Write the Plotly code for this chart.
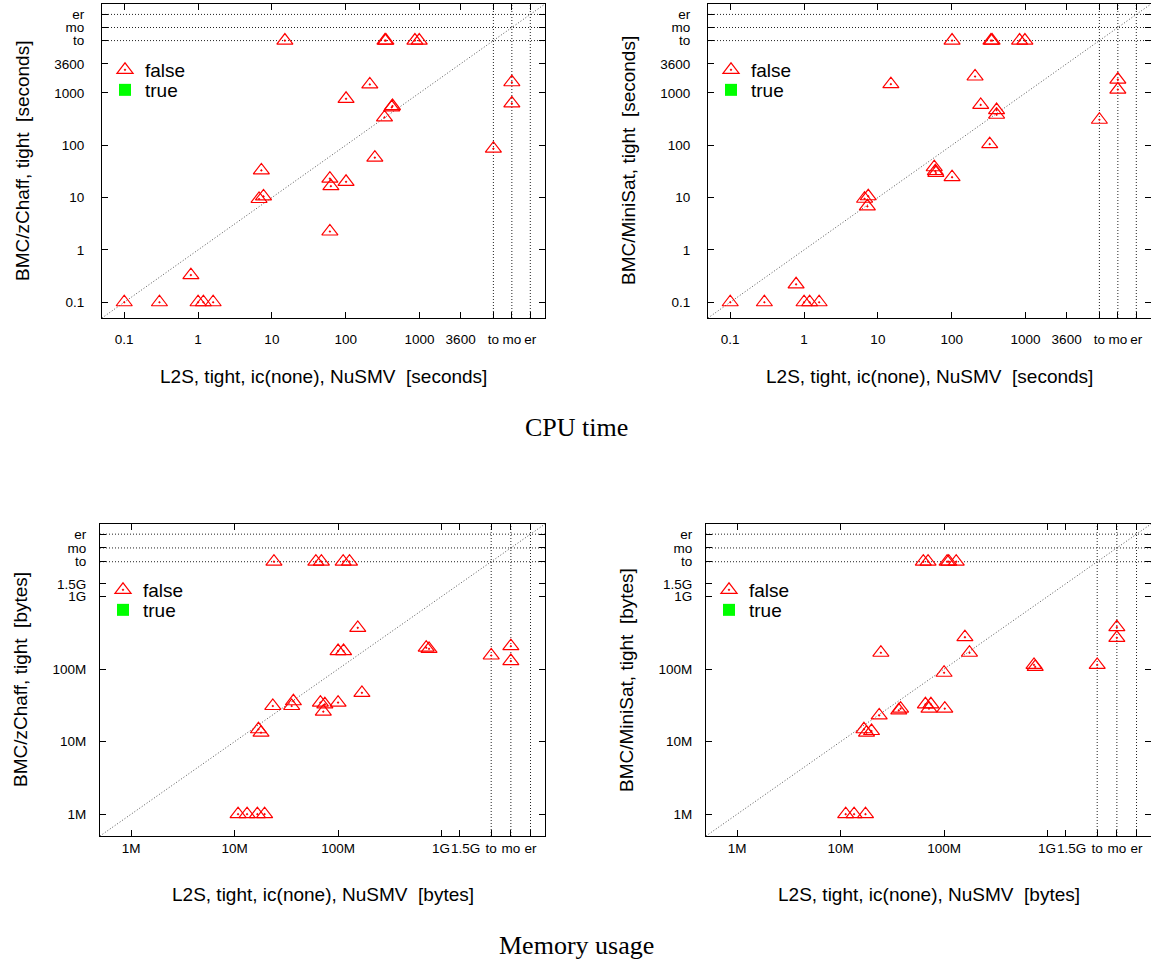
import math
import plotly.graph_objects as go

# ---------------- special "failure" positions ----------------
T_TO, T_MO, T_ER = 1e4, 10 ** 4.25, 10 ** 4.5          # CPU time axes
M_TO, M_MO, M_ER = 10 ** 9.48, 10 ** 9.67, 10 ** 9.86  # memory axes
M = 1e6

# ---------------- axis ticks ----------------
time_tickvals = [0.1, 1, 10, 100, 1000, 3600, T_TO, T_MO, T_ER]
time_ticktext = ["0.1", "1", "10", "100", "1000", "3600", "to", "mo", "er"]
time_range = [0.05, 50000]

mem_tickvals = [1e6, 1e7, 1e8, 1e9, 1.5e9, M_TO, M_MO, M_ER]
mem_ticktext = ["1M", "10M", "100M", "1G", "1.5G", "to", "mo", "er"]
mem_range = [5e5, 1e10]
# labels drawn beside (not centred on) their ticks on the memory x axes
mem_x_side_labels = {"1G": 1e9, "1.5G": 1.5e9}

# ---------------- data ----------------
# CPU time: L2S (x) vs BMC/zChaff (y)
cpu_zchaff_x = [0.1, 0.30, 0.8, 1.0, 1.18, 1.6,
                7.2, 6.7, 7.7,
                61, 63, 101, 61,
                101, 212, 248, 335, 420, 430,
                15, 340, 350, 865, 990,
                T_TO, T_MO, T_MO]
cpu_zchaff_y = [0.1, 0.1, 0.33, 0.1, 0.1, 0.1,
                33, 9.4, 10.5,
                23, 16.5, 20, 2.25,
                770, 1450, 58, 340, 530, 560,
                T_TO, T_TO, T_TO, T_TO, T_TO,
                86, 1600, 630]

# CPU time: L2S (x) vs BMC/MiniSat (y)
cpu_minisat_x = [0.1, 0.29, 0.78, 1.0, 1.19, 1.6,
                 6.6, 7.4, 7.2,
                 15,
                 58, 60, 61, 101,
                 207, 247, 327, 405, 405,
                 101, 340, 352, 830, 980,
                 T_TO, T_MO, T_MO]
cpu_minisat_y = [0.1, 0.1, 0.22, 0.1, 0.1, 0.1,
                 9.5, 10.6, 6.8,
                 1470,
                 38, 32, 29.5, 24.5,
                 2060, 590, 105, 470, 383,
                 T_TO, T_TO, T_TO, T_TO, T_TO,
                 307, 1800, 1160]

# Memory: L2S (x) vs BMC/zChaff (y)
mem_zchaff_x = [10.8 * M, 13.2 * M, 16.6 * M, 19.5 * M,
                17 * M, 18 * M,
                23.4 * M, 35.6 * M, 37 * M, 67.5 * M, 74.5 * M, 72 * M, 100 * M,
                170 * M, 100 * M, 113 * M, 155 * M, 711 * M, 757 * M,
                24 * M, 61 * M, 69 * M, 112 * M, 129 * M,
                M_TO, M_MO, M_MO]
mem_zchaff_y = [1 * M, 1 * M, 1 * M, 1 * M,
                14.8 * M, 13.3 * M,
                31 * M, 31 * M, 36 * M, 34.5 * M, 32.7 * M, 25.9 * M, 34.5 * M,
                47 * M, 177 * M, 177 * M, 370 * M, 197 * M, 190 * M,
                M_TO, M_TO, M_TO, M_TO, M_TO,
                154 * M, 207 * M, 129 * M]

# Memory: L2S (x) vs BMC/MiniSat (y)
mem_minisat_x = [11.2 * M, 13.5 * M, 17.4 * M,
                 16.8 * M, 17.8 * M, 19.9 * M,
                 23.6 * M, 36.5 * M, 38 * M, 66 * M, 74.6 * M, 71.5 * M, 101.6 * M,
                 100 * M, 24.5 * M, 159 * M, 176 * M, 740 * M, 760 * M,
                 63 * M, 70 * M, 107 * M, 111 * M, 131 * M,
                 M_TO, M_MO, M_MO]
mem_minisat_y = [1 * M, 1 * M, 1 * M,
                 14.8 * M, 13.3 * M, 14 * M,
                 23 * M, 27 * M, 28.5 * M, 32.7 * M, 32.7 * M, 28.5 * M, 28.5 * M,
                 89 * M, 168 * M, 275 * M, 168 * M, 114 * M, 107 * M,
                 M_TO, M_TO, M_TO, M_TO, M_TO,
                 114 * M, 378 * M, 270 * M]

true_x = []  # no "true" results in any panel
true_y = []

# ---------------- layout geometry (pixels) ----------------
W, H = 1151, 967
SANS = "Liberation Sans, Arial, sans-serif"
SERIF = "Liberation Serif, Times New Roman, serif"
TICKFONT = dict(family=SANS, size=13.5, color="black")

panels = [
    dict(px=(102, 545), py=(4, 318), x=cpu_zchaff_x, y=cpu_zchaff_y,
         tv=time_tickvals, tt=time_ticktext, rng=time_range,
         sp=(T_TO, T_MO, T_ER), mem=False,
         ytitle="BMC/zChaff, tight\u00a0 [seconds]",
         xtitle="L2S, tight, ic(none), NuSMV\u00a0 [seconds]",
         xlab_off=9, ylab_off=14),
    dict(px=(708, 1151), py=(4, 318), x=cpu_minisat_x, y=cpu_minisat_y,
         tv=time_tickvals, tt=time_ticktext, rng=time_range,
         sp=(T_TO, T_MO, T_ER), mem=False,
         ytitle="BMC/MiniSat, tight\u00a0 [seconds]",
         xtitle="L2S, tight, ic(none), NuSMV\u00a0 [seconds]",
         xlab_off=9, ylab_off=14),
    dict(px=(100, 545), py=(524, 836), x=mem_zchaff_x, y=mem_zchaff_y,
         tv=mem_tickvals, tt=mem_ticktext, rng=mem_range,
         sp=(M_TO, M_MO, M_ER), mem=True,
         ytitle="BMC/zChaff, tight\u00a0 [bytes]",
         xtitle="L2S, tight, ic(none), NuSMV\u00a0 [bytes]",
         xlab_off=0, ylab_off=10),
    dict(px=(706, 1151), py=(524, 836), x=mem_minisat_x, y=mem_minisat_y,
         tv=mem_tickvals, tt=mem_ticktext, rng=mem_range,
         sp=(M_TO, M_MO, M_ER), mem=True,
         ytitle="BMC/MiniSat, tight\u00a0 [bytes]",
         xtitle="L2S, tight, ic(none), NuSMV\u00a0 [bytes]",
         xlab_off=0, ylab_off=10),
]

fig = go.Figure()
layout = dict(width=W, height=H, margin=dict(l=0, r=0, t=0, b=0),
              paper_bgcolor="white", plot_bgcolor="white",
              font=dict(family=SANS, color="black"),
              showlegend=True, annotations=[])

GRID = dict(color="#222222", width=1, dash="1px,2px")
DIAG = dict(color="#555555", width=1, dash="1px,2px")

for i, p in enumerate(panels):
    k = i + 1
    xs = "x" if k == 1 else f"x{k}"
    ys = "y" if k == 1 else f"y{k}"
    lo, hi = p["rng"]
    for v in p["sp"]:
        fig.add_trace(go.Scatter(x=[v, v], y=[lo, hi], mode="lines", line=GRID,
                                 xaxis=xs, yaxis=ys, showlegend=False, hoverinfo="skip"))
        fig.add_trace(go.Scatter(x=[lo, hi], y=[v, v], mode="lines", line=GRID,
                                 xaxis=xs, yaxis=ys, showlegend=False, hoverinfo="skip"))
    fig.add_trace(go.Scatter(x=[lo, hi], y=[lo, hi], mode="lines", line=DIAG,
                             xaxis=xs, yaxis=ys, showlegend=False, hoverinfo="skip"))
    lg_f = "legend" if i == 0 else f"legend{2 * i + 1}"
    lg_t = f"legend{2 * i + 2}"
    fig.add_trace(go.Scatter(x=p["x"], y=p["y"], mode="markers", name="false",
                             marker=dict(symbol="triangle-up-open-dot", size=14,
                                         color="#ff0000", line=dict(color="#ff0000", width=1.2)),
                             xaxis=xs, yaxis=ys, legend=lg_f))
    fig.add_trace(go.Scatter(x=true_x if true_x else [None], y=true_y if true_y else [None],
                             mode="markers", name="true",
                             marker=dict(symbol="square", size=12, color="#00ff00",
                                         line=dict(width=0)),
                             xaxis=xs, yaxis=ys, legend=lg_t))

    x0, x1 = p["px"]
    y0, y1 = p["py"]
    axcommon = dict(type="log", showline=True, linecolor="black", linewidth=1,
                    mirror="ticks", ticks="inside", ticklen=6, tickwidth=1, tickcolor="black",
                    showgrid=False, zeroline=False, tickmode="array",
                    tickvals=p["tv"], tickangle=0, tickfont=TICKFONT,
                    range=[math.log10(lo), math.log10(hi)])
    xtt = list(p["tt"])
    if p["mem"]:
        xtt = ["" if t in mem_x_side_labels else t for t in xtt]
    xname = "xaxis" if k == 1 else f"xaxis{k}"
    yname = "yaxis" if k == 1 else f"yaxis{k}"
    layout[xname] = dict(axcommon, ticktext=xtt, domain=[x0 / W, x1 / W], anchor=ys,
                         ticklabelstandoff=p["xlab_off"])
    layout[yname] = dict(axcommon, ticktext=p["tt"], domain=[1 - y1 / H, 1 - y0 / H], anchor=xs,
                         ticklabelstandoff=p["ylab_off"])

    if p["mem"]:
        for txt, val in mem_x_side_labels.items():
            left = txt != "1G"
            layout["annotations"].append(dict(
                text=txt, x=math.log10(val), xref=xs, y=1 - 848 / H, yref="paper",
                showarrow=False, xanchor="left" if left else "right",
                xshift=-10 if left else 9, yanchor="middle", borderpad=0,
                font=TICKFONT))

    layout["annotations"].append(dict(
        text=p["ytitle"], textangle=-90, x=(x0 - 80) / W, y=1 - (y0 + y1) / 2 / H,
        xref="paper", yref="paper", showarrow=False, xanchor="center", yanchor="middle",
        font=dict(family=SANS, size=19, color="black")))
    layout["annotations"].append(dict(
        text=p["xtitle"], x=(x0 + x1) / 2 / W, y=1 - (y1 + 58) / H,
        xref="paper", yref="paper", showarrow=False, xanchor="center", yanchor="middle",
        font=dict(family=SANS, size=19, color="black")))

    for lname, dy in [(lg_f, 66), (lg_t, 86)]:
        layout[lname] = dict(x=(x0 + 3) / W, y=1 - (y0 + dy) / H, xanchor="left",
                             yanchor="middle", bgcolor="rgba(0,0,0,0)", borderwidth=0,
                             font=dict(family=SANS, size=19, color="black"))

layout["annotations"].append(dict(text="CPU time", x=576 / W, y=1 - 428 / H, xref="paper",
                                  yref="paper", showarrow=False, xanchor="center", yanchor="middle",
                                  font=dict(family=SERIF, size=26, color="black")))
layout["annotations"].append(dict(text="Memory usage", x=576 / W, y=1 - 945 / H, xref="paper",
                                  yref="paper", showarrow=False, xanchor="center", yanchor="middle",
                                  font=dict(family=SERIF, size=26, color="black")))

fig.update_layout(**layout)
fig.write_html("out.html", config={"displayModeBar": False},
               post_script="document.body.style.margin='0';document.body.style.overflow='hidden';")
